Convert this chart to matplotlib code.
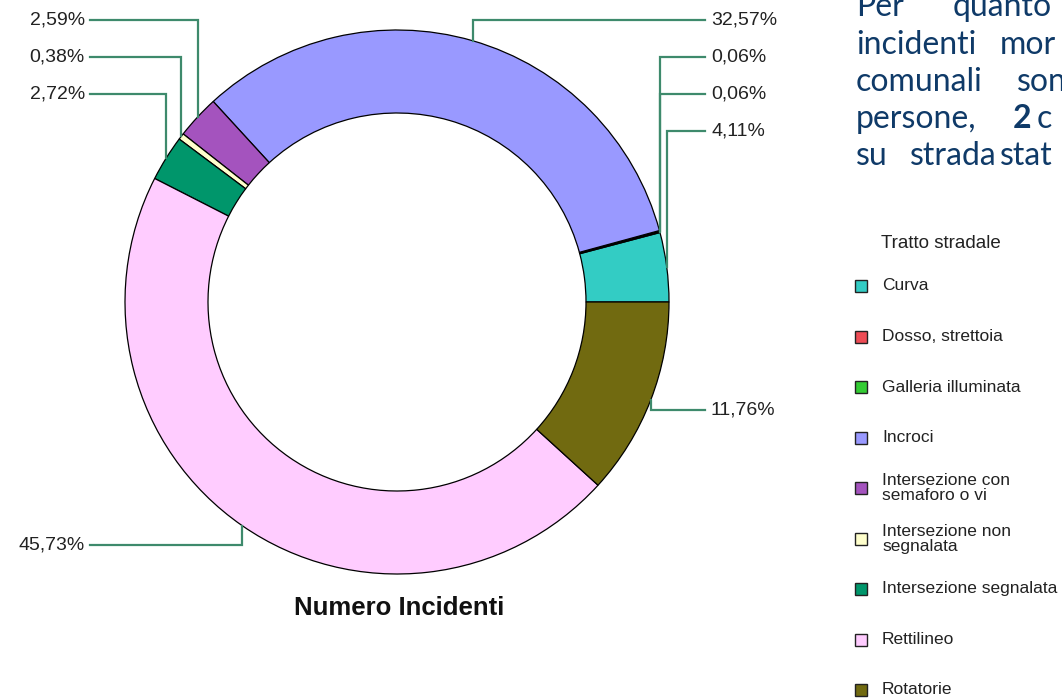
import numpy as np
import matplotlib
matplotlib.use("Agg")
import matplotlib.pyplot as plt
from matplotlib.patches import Rectangle

# dati del grafico
categorie = ["Curva", "Dosso, strettoia", "Galleria illuminata", "Incroci",
             "Intersezione con\nsemaforo o vi", "Intersezione non\nsegnalata",
             "Intersezione segnalata", "Rettilineo", "Rotatorie"]
percentuali = [4.11, 0.06, 0.06, 32.57, 2.59, 0.38, 2.72, 45.73, 11.76]
etichette = ["4,11%", "0,06%", "0,06%", "32,57%", "2,59%", "0,38%", "2,72%", "45,73%", "11,76%"]
colori = ["#33CCC4", "#EE4C55", "#33CC33", "#9999FF", "#A453BE",
          "#FFFFCC", "#00966B", "#FFCCFF", "#716A10"]

# posizione delle etichette (y in pixel dall'alto, lato)
label_y = [131, 94, 57, 20, 20, 57, 94, 545, 410]
label_lato = ["r", "r", "r", "r", "l", "l", "l", "l", "r"]

W, H = 1062, 698
fig = plt.figure(figsize=(W / 100, H / 100), dpi=100)
ax = fig.add_axes([0, 0, 1, 1])

cx, cy = 397, H - 302
R, r_in = 272, 189
wedges, _ = ax.pie(percentuali, colors=colori, startangle=0, counterclock=True,
                   radius=R, center=(cx, cy),
                   wedgeprops=dict(width=R - r_in, edgecolor="black", linewidth=0.9))
ax.set_xlim(0, W)
ax.set_ylim(0, H)
ax.set_aspect("equal")
ax.axis("off")

# linee guida e percentuali
line_col = "#3E8A6C"
for w, testo, ly, lato in zip(wedges, etichette, label_y, label_lato):
    ang = np.deg2rad((w.theta1 + w.theta2) / 2)
    x0 = cx + R * np.cos(ang)
    y0 = cy + R * np.sin(ang)
    yl = H - ly
    if lato == "r":
        ax.plot([x0, x0, 705], [y0, yl, yl], color=line_col, lw=1.6, solid_joinstyle="miter")
        ax.text(711, yl, testo, ha="left", va="center", fontsize=14,
                family="Liberation Sans", color="#222222")
    else:
        ax.plot([x0, x0, 90], [y0, yl, yl], color=line_col, lw=1.6, solid_joinstyle="miter")
        ax.text(85, yl, testo, ha="right", va="center", fontsize=14,
                family="Liberation Sans", color="#222222")

ax.text(399, H - 608, "Numero Incidenti", ha="center", va="center", fontsize=18.5,
        fontweight="bold", family="Liberation Sans", color="#111111")

# legenda
ax.text(941, H - 243, "Tratto stradale", ha="center", va="center", fontsize=13.5,
        family="Liberation Sans", color="#222222")
for i, (nome, col) in enumerate(zip(categorie, colori)):
    yc = H - (286 + i * 50.5)
    ax.add_patch(Rectangle((855, yc - 6), 12, 12, facecolor=col, edgecolor="#222222", lw=1))
    ax.text(882, yc, nome, ha="left", va="center", fontsize=12.5, linespacing=1.0,
            family="Liberation Sans", color="#222222")

# testo a destra (tagliato dal bordo)
blu = "#0F3A68"
righe = [
    [(856, "Per"), (953, "quanto")],
    [(856, "incidenti"), (1000, "mor")],
    [(856, "comunali"), (1017, "son")],
    [(856, "persone,"), (1013, "2"), (1037, "c")],
    [(856, "su"), (910, "strada"), (1000, "stat")],
]
base = [16, 54, 91, 128, 165]
for riga, yb in zip(righe, base):
    for x, parola in riga:
        ax.text(x, H - yb, parola, ha="left", va="baseline", fontsize=23,
                family="Lato", color=blu,
                fontweight="bold" if parola == "2" else "normal")

fig.savefig("out.png", dpi=100)
